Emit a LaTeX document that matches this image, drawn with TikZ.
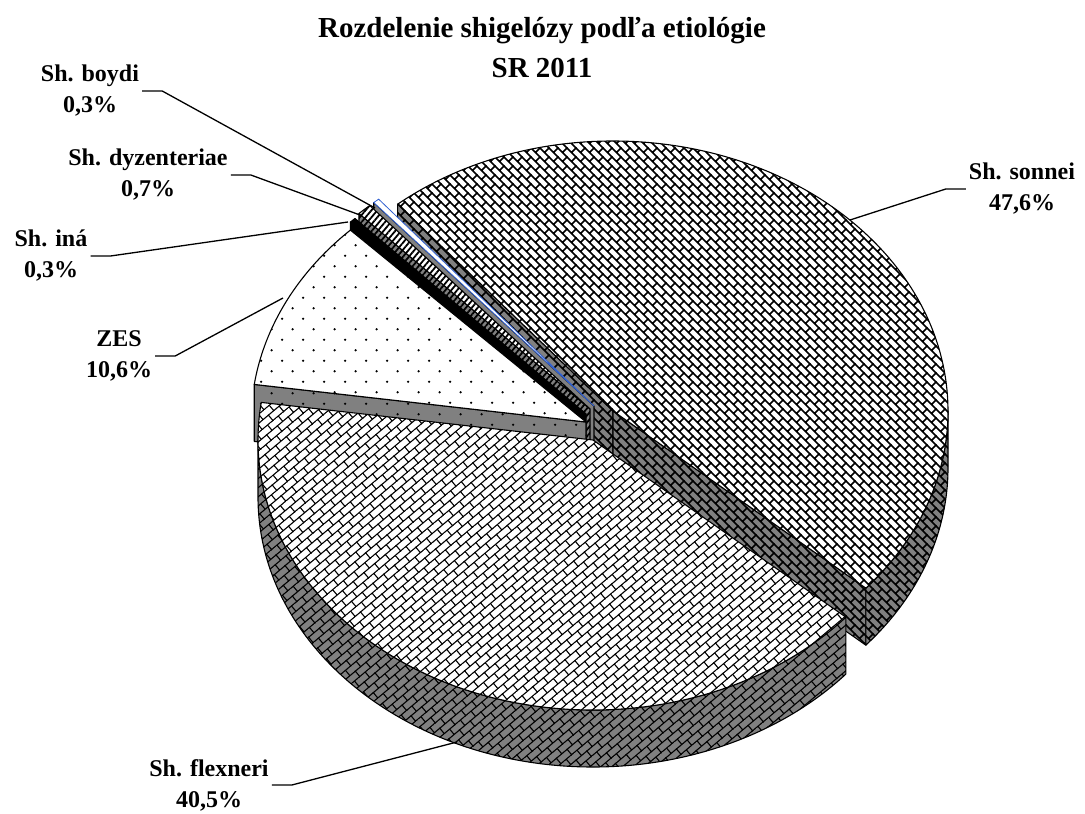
\documentclass[tikz,border=0pt]{standalone}
\usepackage{fontspec}
\setmainfont{Liberation Serif}
\usepackage{xcolor}
\definecolor{cWall}{HTML}{808080}
\definecolor{cInk}{HTML}{000000}
\definecolor{cBoydi}{HTML}{2F5FD0}
\usetikzlibrary{calc,patterns,patterns.meta}

% fill patterns of the slices
\pgfdeclarepattern{
  name=slice-bricks,
  type=uncolored,
  bottom left={\pgfpoint{-0.7pt}{-0.7pt}},
  top right={\pgfpoint{14.7pt}{14.7pt}},
  tile size={\pgfpoint{14pt}{14pt}},
  tile transformation={\pgftransformrotate{40}},
  code={
    \pgfsetlinewidth{1.1pt}
    \pgfpathmoveto{\pgfpoint{-0.7pt}{0pt}}\pgfpathlineto{\pgfpoint{14.7pt}{0pt}}
    \pgfpathmoveto{\pgfpoint{-0.7pt}{7pt}}\pgfpathlineto{\pgfpoint{14.7pt}{7pt}}
    \pgfpathmoveto{\pgfpoint{0pt}{0pt}}\pgfpathlineto{\pgfpoint{0pt}{7pt}}
    \pgfpathmoveto{\pgfpoint{7pt}{7pt}}\pgfpathlineto{\pgfpoint{7pt}{14pt}}
    \pgfusepath{stroke}
  }
}
\pgfdeclarepattern{
  name=slice-weave,
  type=uncolored,
  bottom left={\pgfpoint{-1pt}{-1pt}},
  top right={\pgfpoint{10pt}{10pt}},
  tile size={\pgfpoint{9pt}{9pt}},
  code={
    \pgfsetlinewidth{1.7pt}
    \pgfpathmoveto{\pgfpoint{-0.5pt}{9.5pt}}\pgfpathlineto{\pgfpoint{9.5pt}{-0.5pt}}
    \pgfpathmoveto{\pgfpoint{4.5pt}{4.5pt}}\pgfpathlineto{\pgfpoint{9pt}{9pt}}
    \pgfusepath{stroke}
  }
}
\pgfdeclarepattern{
  name=slice-dots,
  type=uncolored,
  bottom left={\pgfpoint{0pt}{0pt}},
  top right={\pgfpoint{21.4pt}{21.4pt}},
  tile size={\pgfpoint{21.4pt}{21.4pt}},
  code={
    \pgfpathcircle{\pgfpoint{5.35pt}{5.35pt}}{1.3pt}
    \pgfpathcircle{\pgfpoint{16.05pt}{16.05pt}}{1.3pt}
    \pgfusepath{fill}
  }
}

\tikzset{
  pie-r/.style={x radius=335,y radius=270},
  slice-edge/.style={draw=cInk,line width=1.1pt,line join=round},
  top-sonnei/.style={slice-edge,preaction={fill=white},pattern=slice-weave,pattern color=cInk},
  wall-sonnei/.style={slice-edge,preaction={fill=cWall},pattern=slice-weave,pattern color=cInk},
  top-flexneri/.style={slice-edge,preaction={fill=white},pattern=slice-bricks,pattern color=cInk},
  wall-flexneri/.style={slice-edge,preaction={fill=cWall},pattern=slice-bricks,pattern color=cInk},
  top-zes/.style={slice-edge,preaction={fill=white},pattern=slice-dots,pattern color=cInk},
  wall-zes/.style={slice-edge,preaction={fill=cWall},pattern=slice-dots,pattern color=cInk},
  top-ina/.style={slice-edge,fill=cInk},
  wall-ina/.style={slice-edge,fill=cInk},
  top-dys/.style={slice-edge,preaction={fill=white},
    pattern={Lines[angle=50,distance=4.5pt,line width=1.8pt]},pattern color=cInk},
  wall-dys/.style={slice-edge,preaction={fill=cWall},
    pattern={Lines[angle=50,distance=4.5pt,line width=1.8pt]},pattern color=cInk},
  top-boydi/.style={draw=cBoydi,line width=0.8pt,fill=white},
  wall-boydi/.style={slice-edge,fill=cWall},
  leader/.style={draw=cInk,line width=1.3pt},
  lbl/.style={font=\fontsize{24}{31}\selectfont\bfseries,align=center,inner sep=3pt},
  title-text/.style={font=\fontsize{29}{40}\selectfont\bfseries,align=center},
}

\begin{document}
\begin{tikzpicture}[x=1pt,y=-1pt]
  \useasboundingbox (0,0) rectangle (1085,814);

  \node[title-text] (title) at (542,48) {Rozdelenie shigelózy podľa etiológie\\SR 2011};

  % centres of the exploded slices
  \coordinate (son-c) at (613,411);
  \coordinate (boy-c) at (594,406);
  \coordinate (dys-c) at (590,409);
  \coordinate (ina-c) at (586,414);
  \coordinate (zes-c) at (586,422);
  \coordinate (flx-c) at (593,440);

  % Sh. sonnei
  \draw[wall-sonnei] (son-c) -- ($(son-c)+(230:335 and 270)$) -- ++(0,57) -- ($(son-c)+(0,57)$) -- cycle;
  \draw[wall-sonnei] (son-c) -- ($(son-c)+(41:335 and 270)$) -- ++(0,57) -- ($(son-c)+(0,57)$) -- cycle;
  \draw[wall-sonnei] ($(son-c)+(0:335 and 270)$) arc[pie-r,start angle=0,end angle=41]
    -- ++(0,57) arc[pie-r,start angle=41,end angle=0] -- cycle;
  \draw[top-sonnei] (son-c) -- ($(son-c)+(230:335 and 270)$) arc[pie-r,start angle=230,end angle=401] -- cycle;

  % small slices
  \draw[wall-boydi] (boy-c) -- ($(boy-c)+(228.9:335 and 270)$) -- ++(0,57) -- ($(boy-c)+(0,57)$) -- cycle;
  \draw[top-boydi] (boy-c) -- ($(boy-c)+(228.9:335 and 270)$) arc[pie-r,start angle=228.9,end angle=230] -- cycle;
  \draw[wall-dys] (dys-c) -- ($(dys-c)+(226.4:335 and 270)$) -- ++(0,57) -- ($(dys-c)+(0,57)$) -- cycle;
  \draw[top-dys] (dys-c) -- ($(dys-c)+(226.4:335 and 270)$) arc[pie-r,start angle=226.4,end angle=228.9] -- cycle;
  \draw[wall-ina] (ina-c) -- ($(ina-c)+(225.3:335 and 270)$) -- ++(0,57) -- ($(ina-c)+(0,57)$) -- cycle;
  \draw[top-ina] (ina-c) -- ($(ina-c)+(225.3:335 and 270)$) arc[pie-r,start angle=225.3,end angle=226.4] -- cycle;

  % ZES
  \draw[wall-zes] (zes-c) -- ($(zes-c)+(188:335 and 270)$) -- ++(0,57) -- ($(zes-c)+(0,57)$) -- cycle;
  \draw[top-zes] (zes-c) -- ($(zes-c)+(188:335 and 270)$) arc[pie-r,start angle=188,end angle=225.3] -- cycle;

  % Sh. flexneri
  \draw[wall-flexneri] ($(flx-c)+(41:335 and 270)$) arc[pie-r,start angle=41,end angle=180]
    -- ++(0,57) arc[pie-r,start angle=180,end angle=41] -- cycle;
  \draw[top-flexneri] (flx-c) -- ($(flx-c)+(41:335 and 270)$) arc[pie-r,start angle=41,end angle=188] -- cycle;

  % labels and leaders
  \node[lbl] (boy-lbl) at (90,91) {Sh. boydi\\0,3\%};
  \node[lbl] (dys-lbl) at (148,175) {Sh. dyzenteriae\\0,7\%};
  \node[lbl] (ina-lbl) at (51,256) {Sh. iná\\0,3\%};
  \node[lbl] (zes-lbl) at (119,356) {ZES\\10,6\%};
  \node[lbl] (son-lbl) at (1022,189) {Sh. sonnei\\47,6\%};
  \node[lbl] (flx-lbl) at (209,785) {Sh. flexneri\\40,5\%};

  \coordinate (boy-tip) at (375,208);
  \coordinate (dys-tip) at (360,215);
  \coordinate (ina-tip) at (348,222);
  \coordinate (zes-tip) at (283,298);
  \coordinate (son-tip) at (850,220);
  \coordinate (flx-tip) at (457,742);

  \draw[leader] (boy-lbl.east) -- ++(20,0) -- (boy-tip);
  \draw[leader] (dys-lbl.east) -- ++(20,0) -- (dys-tip);
  \draw[leader] (ina-lbl.east) -- ++(20,0) -- (ina-tip);
  \draw[leader] (zes-lbl.east) -- ++(20,0) -- (zes-tip);
  \draw[leader] (son-lbl.west) -- ++(-20,0) -- (son-tip);
  \draw[leader] (flx-lbl.east) -- ++(20,0) -- (flx-tip);
\end{tikzpicture}
\end{document}
